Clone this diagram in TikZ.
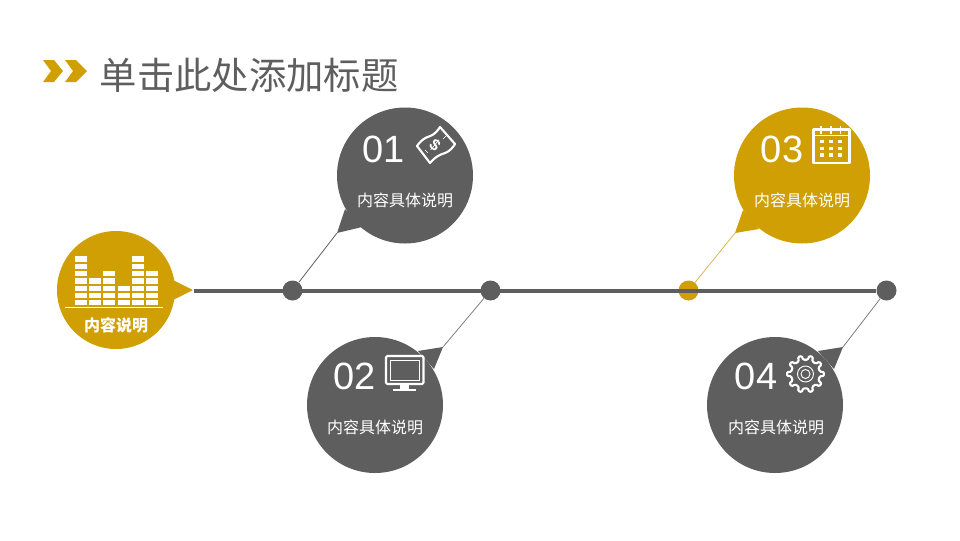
\documentclass[tikz,border=0pt]{standalone}
\usepackage{fontspec}
\usepackage{xcolor}
\setmainfont{Liberation Sans}
\newfontfamily\cjk{Noto Sans CJK SC}
\usetikzlibrary{calc,positioning}
\definecolor{darkgrey}{HTML}{5F5E5E}
\definecolor{gold}{HTML}{CF9F03}
\tikzset{%
	bubble/.style   = {circle, inner sep=0pt, minimum size=102pt},
	dot/.style      = {circle, inner sep=0pt, minimum size=15pt, fill=darkgrey},
	number/.style   = {text=white, font=\fontsize{28.5}{32}\selectfont},
	caption/.style  = {text=white, font=\cjk\fontsize{12}{14}\selectfont},
	title/.style    = {text=darkgrey, font=\cjk\fontsize{28}{32}\selectfont},
	icon/.style     = {draw=white, line width=1.6pt, line join=round},
	leader/.style   = {line width=0.6pt},
}
\begin{document}
\begin{tikzpicture}[x=0.75pt,y=-0.75pt,node distance=148.5pt]
	\useasboundingbox (0,0) rectangle (960,540);
	% title
	\fill[gold] (43,60) -- (54,60) -- (63,71) -- (54,82) -- (43,82) -- (51,71) -- cycle;
	\fill[gold] (65,60) -- (76,60) -- (87,71) -- (76,82) -- (65,82) -- (73,71) -- cycle;
	\node [title] (head) at (249,75) {单击此处添加标题};

	% time line
	\node [dot] (dota) at (292.5,290.5) {};
	\node [dot] (dotb) [right of=dota] {};
	\node [dot,fill=gold] (dotc) [right of=dotb] {};
	\node [dot] (dotd) [right of=dotc] {};
	\coordinate (start) at (194,290.5);
	\draw[darkgrey,line width=3pt] (start) -- (dotd);

	% left bubble
	\node [bubble,minimum size=88.5pt,fill=gold] (main) at (116,290) {};
	\fill[gold] (173,280) -- (193,290) -- (173,300) -- cycle;
	\foreach \x/\n in {75/7,89/4,103/5,118/3,132/7,146/5}
		\foreach \i in {1,...,\n}
			\fill[white] (\x,{307.5-7.3*\i}) rectangle (\x+11.5,{307.5-7.3*\i+5.2});
	\draw[white,line width=0.6pt] (65,307.5) -- (163,307.5);
	\node [caption,font=\cjk\bfseries\fontsize{12}{14}\selectfont] (maintext) at (116,325) {内容说明};

	% bubbles
	\node [bubble,fill=darkgrey] (bubblea) at (405,175.5) {};
	\node [bubble,fill=darkgrey] (bubbleb) at (375,405) {};
	\node [bubble,fill=gold] (bubblec) at (802,175.5) {};
	\node [bubble,fill=darkgrey] (bubbled) at (775,405) {};
	\coordinate (tipa) at (337,233);
	\coordinate (tipb) at (443,347);
	\coordinate (tipc) at (735,233);
	\coordinate (tipd) at (843,347);
	\fill[darkgrey] (tipa) -- (345,209) -- (362,227) -- cycle;
	\fill[darkgrey] (tipb) -- (418,351) -- (434,369) -- cycle;
	\fill[gold] (tipc) -- (743,210) -- (759,229) -- cycle;
	\fill[darkgrey] (tipd) -- (818,351) -- (834,369) -- cycle;
	\draw[leader,darkgrey] (tipa) -- (dota);
	\draw[leader,darkgrey!80] (tipb) -- (dotb);
	\draw[leader,gold!80!brown!70] (tipc) -- (dotc);
	\draw[leader,darkgrey!80] (tipd) -- (dotd);

	\node [number] (numa) at (383.5,149.5) {01};
	\node [number] (numb) at (355,376.5) {02};
	\node [number] (numc) at (782,149.5) {03};
	\node [number] (numd) at (756,376.5) {04};
	\node [caption] (texta) at (405,200.5) {内容具体说明};
	\node [caption] (textb) at (375,427.5) {内容具体说明};
	\node [caption] (textc) at (802,200.5) {内容具体说明};
	\node [caption] (textd) at (776,427.5) {内容具体说明};

	% money
	\draw[icon] (417,146) .. controls (427,132) and (431,141) .. (440,127)
		-- (455,144) .. controls (446,158) and (442,149) .. (430,163) -- cycle;
	\node [text=white,rotate=-40,font=\fontsize{12}{12}\selectfont\bfseries] (money) at (435,145) {\$};
	\draw[white,line width=0.5pt] (446,136) -- (443,139);
	\draw[white,line width=0.5pt] (428,153) -- (425,150);

	% monitor
	\draw[icon,rounded corners=1pt] (386,356) rectangle (423.5,384);
	\draw[white,line width=0.6pt] (390.5,360) rectangle (419,380);
	\fill[white] (400,384) rectangle (409,388.5);
	\fill[white] (393,388.5) rectangle (416,390.7);

	% calendar
	\draw[icon] (813.5,129.5) rectangle (849.5,163);
	\draw[white,line width=0.7pt] (813.5,135.5) -- (849.5,135.5);
	\foreach \x in {821,831,840.5}
		\draw[white,line width=1.1pt] (\x,125.5) -- (\x,133.5);
	\foreach \x in {822,831,840}
		\foreach \y in {141.5,148.5,155}
			\fill[white] (\x-2.2,\y-1.6) rectangle (\x+2.2,\y+1.6);

	% gear
	\coordinate (gear) at (805.5,374);
	\draw[icon,rounded corners=0.8pt] ($(gear)+(-9:14.5)$)
		\foreach \a in {0,36,...,324} {
			-- ($(gear)+(\a-9:14.5)$) -- ($(gear)+(\a-6:18.5)$) -- ($(gear)+(\a+6:18.5)$) -- ($(gear)+(\a+9:14.5)$)
		} -- cycle;
	\draw[white,line width=0.7pt] (gear) circle (8);
	\draw[white,line width=0.7pt] (gear) circle (4.5);
\end{tikzpicture}
\end{document}
